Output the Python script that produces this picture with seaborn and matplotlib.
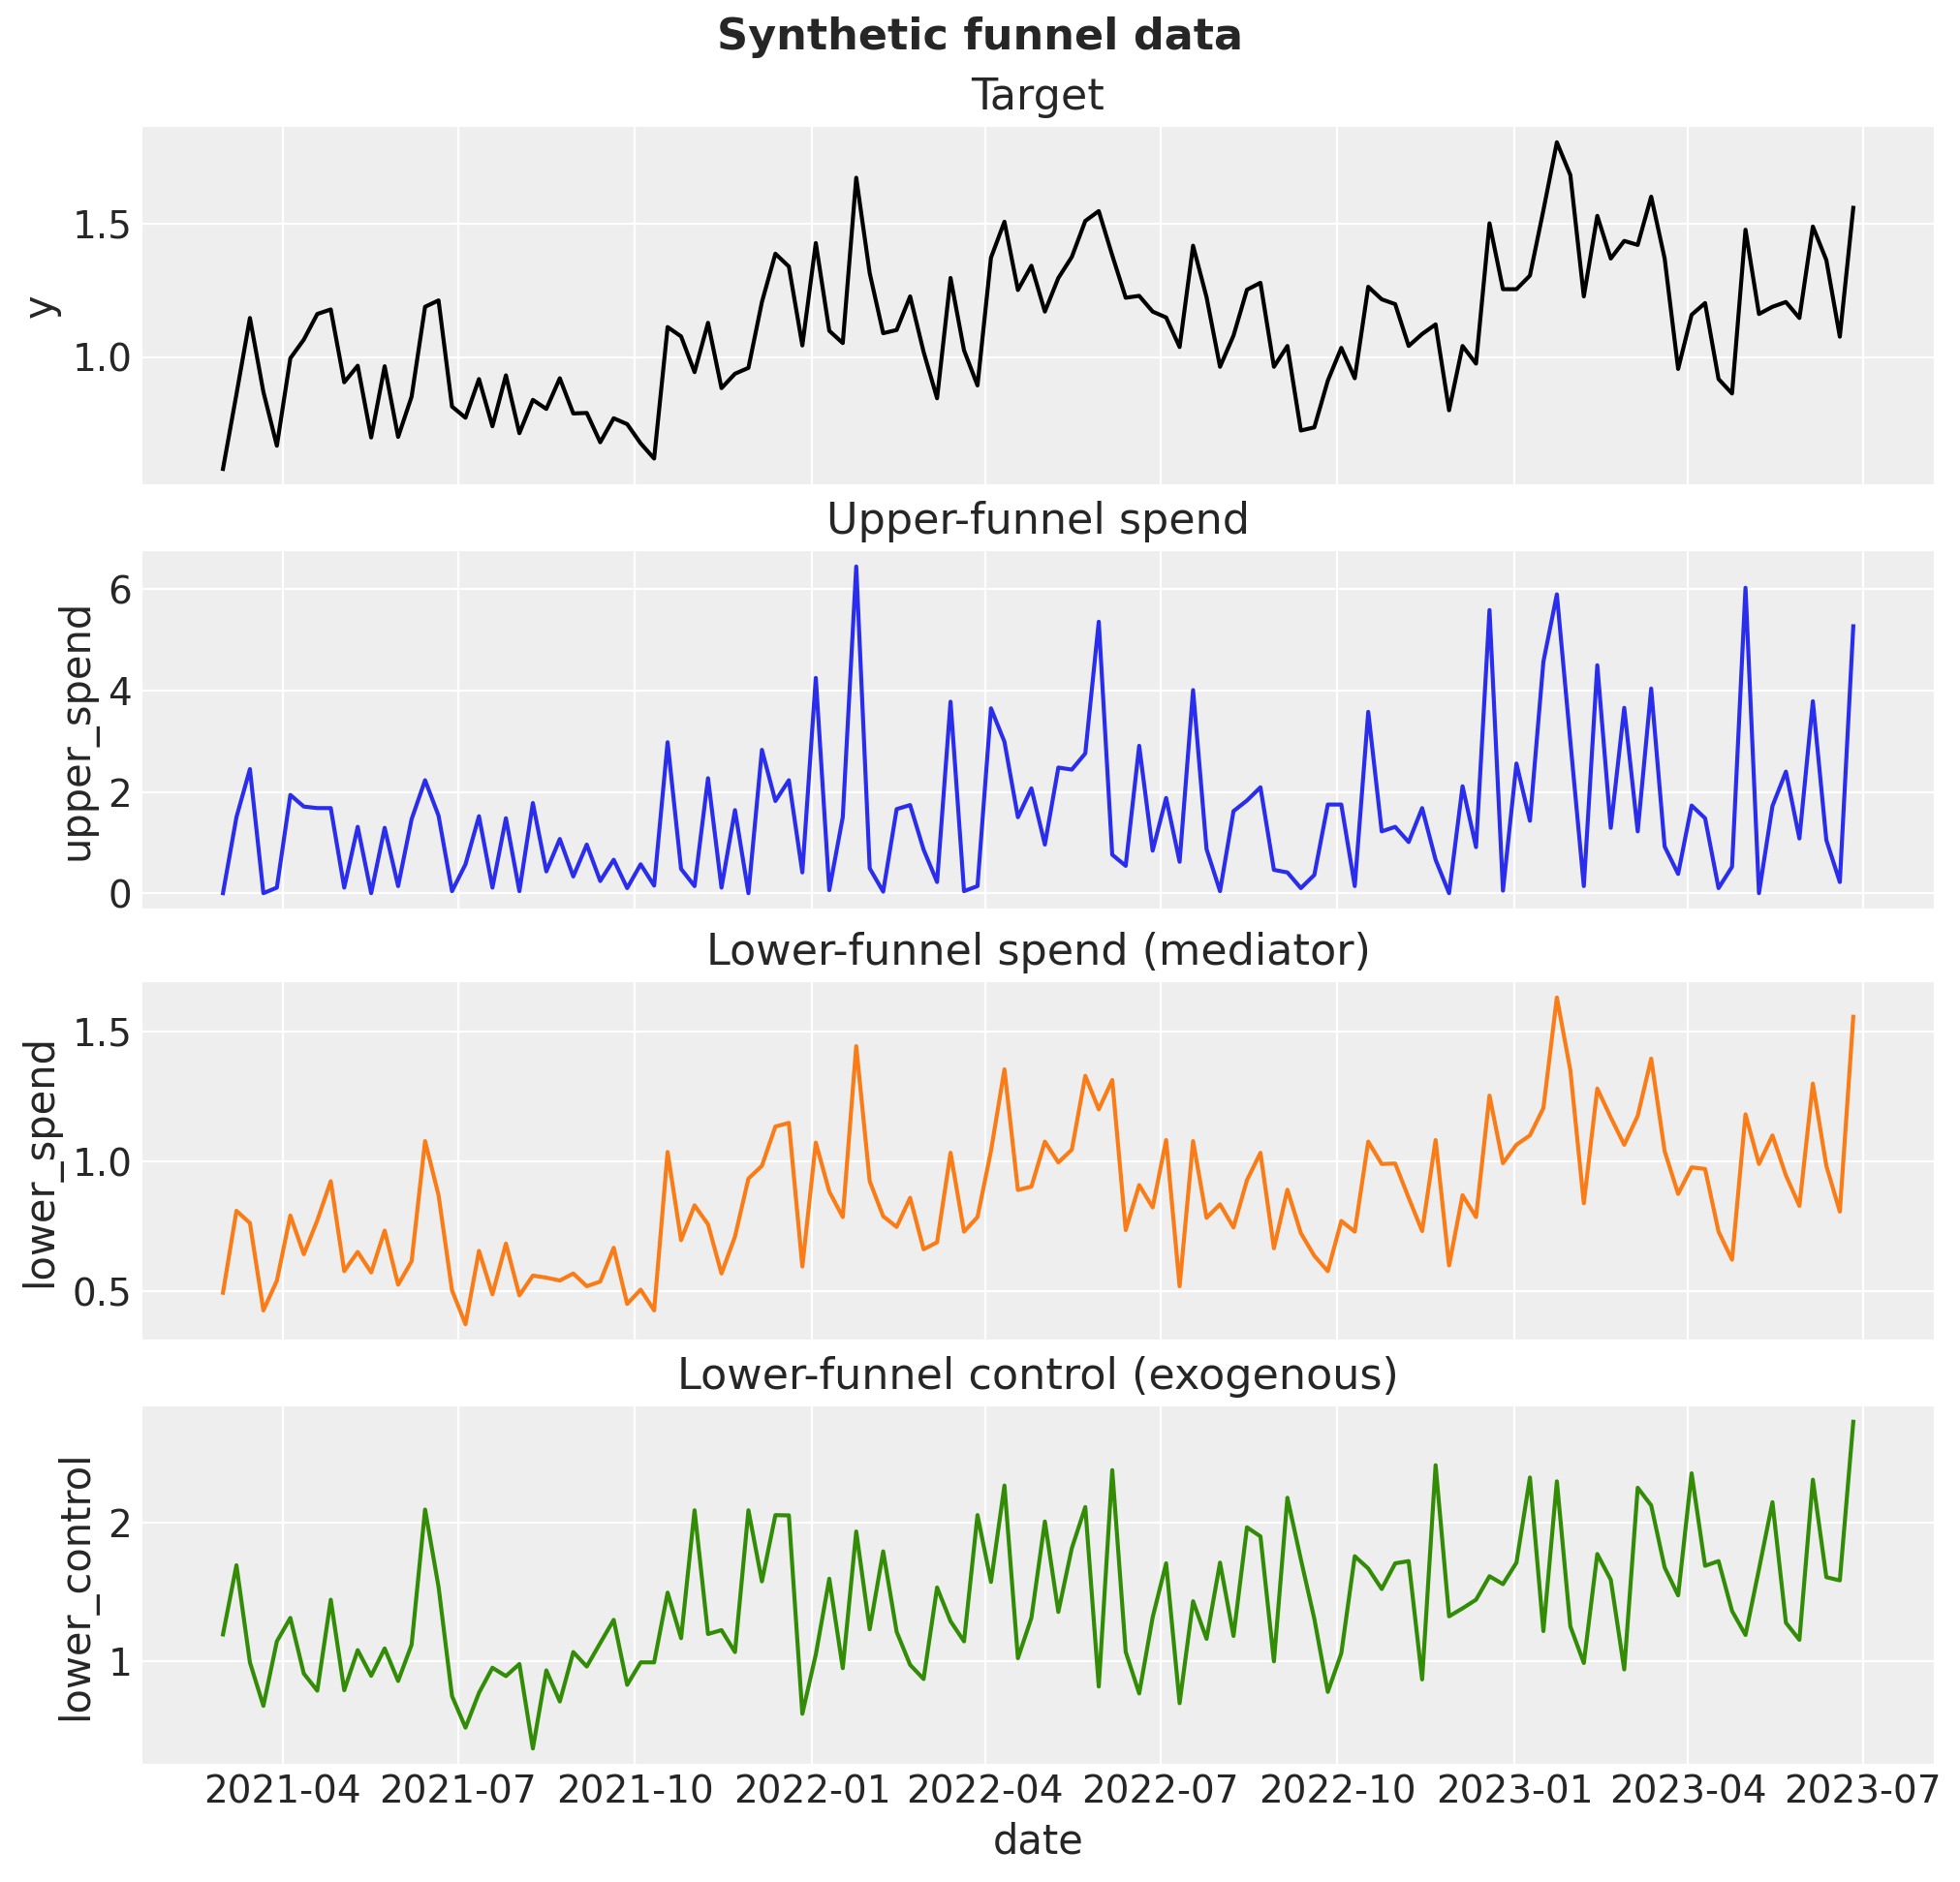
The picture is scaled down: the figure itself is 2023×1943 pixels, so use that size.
import pandas as pd
import seaborn as sns
import matplotlib.pyplot as plt

# weekly data
dates = pd.date_range("2021-03-01", periods=122, freq="W-MON")

y = [0.58, 0.86, 1.146, 0.869, 0.667, 0.995, 1.065, 1.161, 1.178, 0.905,
     0.967, 0.698, 0.965, 0.70, 0.851, 1.188, 1.212, 0.814, 0.772, 0.917,
     0.74, 0.931, 0.714, 0.839, 0.805, 0.92, 0.788, 0.79, 0.68, 0.77,
     0.748, 0.676, 0.619, 1.112, 1.077, 0.943, 1.128, 0.883, 0.937, 0.959,
     1.206, 1.387, 1.339, 1.043, 1.427, 1.098, 1.052, 1.672, 1.314, 1.089,
     1.101, 1.227, 1.019, 0.845, 1.296, 1.025, 0.893, 1.372, 1.507, 1.251,
     1.342, 1.17, 1.296, 1.375, 1.51, 1.547, 1.381, 1.222, 1.229, 1.17,
     1.148, 1.037, 1.417, 1.224, 0.963, 1.08, 1.252, 1.278, 0.963, 1.041,
     0.724, 0.736, 0.911, 1.034, 0.92, 1.263, 1.216, 1.198, 1.041, 1.086,
     1.122, 0.80, 1.041, 0.975, 1.501, 1.254, 1.254, 1.305, 1.55, 1.805,
     1.682, 1.227, 1.529, 1.369, 1.435, 1.42, 1.601, 1.369, 0.955, 1.158,
     1.202, 0.917, 0.863, 1.477, 1.161, 1.188, 1.206, 1.146, 1.489, 1.363,
     1.076, 1.559]

upper_spend = [0.0, 1.50, 2.45, 0.0, 0.11, 1.94, 1.71, 1.68, 1.68, 0.11,
               1.31, 0.0, 1.29, 0.14, 1.46, 2.23, 1.53, 0.04, 0.57, 1.52,
               0.11, 1.48, 0.04, 1.78, 0.43, 1.07, 0.33, 0.96, 0.24, 0.66,
               0.10, 0.57, 0.15, 2.98, 0.48, 0.14, 2.27, 0.11, 1.64, 0.0,
               2.83, 1.82, 2.23, 0.41, 4.25, 0.06, 1.50, 6.45, 0.49, 0.03,
               1.66, 1.74, 0.86, 0.22, 3.78, 0.04, 0.14, 3.65, 2.99, 1.50,
               2.07, 0.96, 2.48, 2.44, 2.76, 5.36, 0.76, 0.54, 2.91, 0.84,
               1.88, 0.62, 4.01, 0.87, 0.04, 1.62, 1.83, 2.09, 0.46, 0.41,
               0.10, 0.36, 1.75, 1.75, 0.14, 3.58, 1.22, 1.31, 1.01, 1.68,
               0.66, 0.0, 2.11, 0.91, 5.59, 0.05, 2.56, 1.43, 4.57, 5.90,
               3.0, 0.14, 4.50, 1.29, 3.66, 1.22, 4.04, 0.92, 0.38, 1.73,
               1.48, 0.10, 0.52, 6.03, 0.0, 1.72, 2.40, 1.08, 3.79, 1.05,
               0.22, 5.27]

lower_spend = [0.495, 0.81, 0.763, 0.427, 0.541, 0.792, 0.643, 0.773, 0.924, 0.578,
               0.652, 0.573, 0.734, 0.526, 0.616, 1.078, 0.87, 0.504, 0.374, 0.656,
               0.489, 0.684, 0.485, 0.561, 0.553, 0.542, 0.569, 0.52, 0.538, 0.668,
               0.452, 0.507, 0.427, 1.036, 0.697, 0.831, 0.758, 0.569, 0.711, 0.934,
               0.983, 1.134, 1.148, 0.596, 1.072, 0.884, 0.786, 1.443, 0.924, 0.789,
               0.748, 0.86, 0.662, 0.689, 1.033, 0.73, 0.786, 1.04, 1.354, 0.89,
               0.903, 1.076, 0.996, 1.045, 1.329, 1.20, 1.313, 0.736, 0.909, 0.823,
               1.082, 0.52, 1.078, 0.783, 0.835, 0.746, 0.928, 1.033, 0.666, 0.891,
               0.724, 0.637, 0.578, 0.771, 0.73, 1.076, 0.99, 0.992, 0.86, 0.732,
               1.082, 0.60, 0.87, 0.786, 1.253, 0.993, 1.064, 1.10, 1.205, 1.63,
               1.35, 0.839, 1.28, 1.169, 1.064, 1.175, 1.395, 1.039, 0.875, 0.977,
               0.971, 0.73, 0.622, 1.181, 0.99, 1.10, 0.946, 0.829, 1.299, 0.983,
               0.807, 1.556]

lower_control = [1.194, 1.692, 0.993, 0.68, 1.144, 1.313, 0.912, 0.789, 1.444, 0.792,
                 1.081, 0.896, 1.093, 0.859, 1.12, 2.093, 1.537, 0.75, 0.523, 0.773,
                 0.954, 0.894, 0.981, 0.373, 0.935, 0.711, 1.067, 0.963, 1.132, 1.299,
                 0.831, 0.993, 0.993, 1.495, 1.167, 2.088, 1.197, 1.225, 1.067, 2.088,
                 1.576, 2.053, 2.051, 0.623, 1.05, 1.595, 0.951, 1.935, 1.231, 1.792,
                 1.213, 0.975, 0.873, 1.532, 1.289, 1.144, 2.053, 1.572, 2.266, 1.023,
                 1.313, 2.007, 1.356, 1.815, 2.111, 0.819, 2.377, 1.069, 0.769, 1.317,
                 1.706, 0.699, 1.433, 1.162, 1.711, 1.183, 1.965, 1.90, 1.0, 2.178,
                 1.734, 1.306, 0.78, 1.058, 1.757, 1.669, 1.521, 1.706, 1.722, 0.87,
                 2.412, 1.324, 1.382, 1.444, 1.613, 1.556, 1.711, 2.324, 1.218, 2.296,
                 1.252, 0.988, 1.773, 1.588, 0.942, 2.25, 2.123, 1.676, 1.475, 2.354,
                 1.688, 1.722, 1.363, 1.19, 1.664, 2.146, 1.278, 1.155, 2.308, 1.606,
                 1.583, 2.725]

df = pd.DataFrame({
    "date": dates,
    "y": y,
    "upper_spend": upper_spend,
    "lower_spend": lower_spend,
    "lower_control": lower_control,
})

# arviz-darkgrid look
plt.rcParams.update({
    "figure.facecolor": "white",
    "axes.facecolor": "#eeeeee",
    "axes.edgecolor": "white",
    "axes.grid": True,
    "axes.axisbelow": True,
    "grid.color": "white",
    "grid.linewidth": 0.8,
    "font.size": 14,
    "axes.titlesize": 16,
    "axes.labelsize": 15,
    "xtick.labelsize": 14,
    "ytick.labelsize": 14,
    "xtick.major.size": 0,
    "ytick.major.size": 0,
    "text.color": "0.15",
    "axes.labelcolor": "0.15",
    "xtick.color": "0.15",
    "ytick.color": "0.15",
})

panels = [
    ("y", "Target", "#000000"),
    ("upper_spend", "Upper-funnel spend", "#2a2eec"),
    ("lower_spend", "Lower-funnel spend (mediator)", "#fa7c17"),
    ("lower_control", "Lower-funnel control (exogenous)", "#328c06"),
]

W, H = 2023, 1943
fig, axes = plt.subplots(4, 1, figsize=(W / 200, H / 200), sharex=True)

# panel placement in pixels (left, right, top edges, height)
left, right, height = 146, 1997, 371
tops = [130, 568, 1013, 1451]

for ax, top, (col, title, color) in zip(axes, tops, panels):
    ax.set_position([left / W, 1 - (top + height) / H, (right - left) / W, height / H])
    sns.lineplot(data=df, x="date", y=col, color=color, linewidth=1.5, ax=ax)
    ax.set_title(title)

fig.suptitle("Synthetic funnel data", fontsize=16, fontweight="bold", y=1 - 38 / H, va="center")

fig.savefig("out.png", dpi=200)
